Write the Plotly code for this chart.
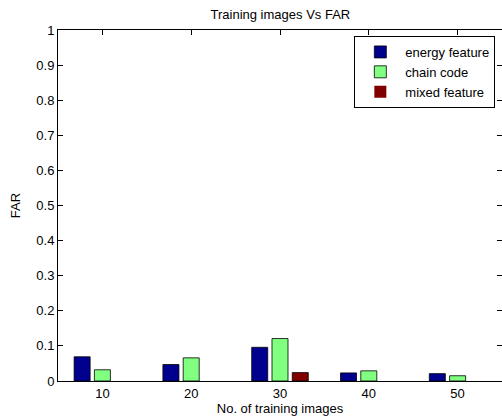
import plotly.graph_objects as go

training_images = [10, 20, 30, 40, 50]
energy_feature = [0.069, 0.047, 0.096, 0.023, 0.021]
chain_code = [0.032, 0.066, 0.121, 0.029, 0.015]
mixed_feature = [0.0, 0.0, 0.024, 0.0, 0.0]
y_ticks = [0, 0.1, 0.2, 0.3, 0.4, 0.5, 0.6, 0.7, 0.8, 0.9, 1]
y_tick_labels = ["0", "0.1", "0.2", "0.3", "0.4", "0.5", "0.6", "0.7", "0.8", "0.9", "1"]

series = [
    ("energy feature", energy_feature, "#00008F"),
    ("chain code", chain_code, "#80FF80"),
    ("mixed feature", mixed_feature, "#800000"),
]

fig = go.Figure()
for name, vals, color in series:
    fig.add_trace(go.Bar(
        x=training_images, y=vals, name=name,
        marker=dict(color=color,
                    line=dict(color="black",
                              width=[0.8 if v > 0 else 0 for v in vals])),
    ))

font = dict(family="Liberation Sans, Arial, sans-serif", size=13, color="black")

fig.update_layout(
    width=502, height=420,
    margin=dict(l=58, r=0, t=30, b=39),
    paper_bgcolor="white", plot_bgcolor="white",
    font=font,
    barmode="group", bargap=0.315, bargroupgap=0.21,
    title=dict(text="Training images Vs FAR", x=0.5585, xanchor="center",
               y=1 - 14 / 420, yanchor="middle", yref="container",
               font=dict(size=13)),
    showlegend=True,
    legend=dict(x=0.985, xanchor="right", y=0.983, yanchor="top",
                bgcolor="white", bordercolor="black", borderwidth=1,
                font=dict(size=13), tracegroupgap=0, itemwidth=40),
    xaxis=dict(range=[5, 55], tickvals=training_images,
               ticktext=[str(v) for v in training_images],
               showline=True, linecolor="black", linewidth=1, mirror="ticks",
               ticks="inside", ticklen=5, tickwidth=1, tickcolor="black",
               layer="below traces",
               showgrid=False, zeroline=False, tickfont=dict(size=13),
               title=dict(text="No. of training images", standoff=3,
                          font=dict(size=13))),
    yaxis=dict(range=[0, 1], tickvals=y_ticks, ticktext=y_tick_labels,
               showline=True, linecolor="black", linewidth=1, mirror="ticks",
               ticks="inside", ticklen=5, tickwidth=1, tickcolor="black",
               layer="below traces",
               showgrid=False, zeroline=False, tickfont=dict(size=13),
               title=dict(text="FAR", standoff=12, font=dict(size=13))),
)

fig.write_html("out.html")
